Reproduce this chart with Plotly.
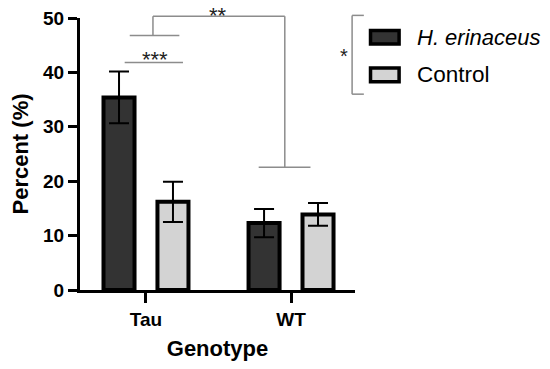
import plotly.graph_objects as go

categories = ["Tau", "WT"]
series_names = ["H. erinaceus", "Control"]
he_values = [35.4, 12.3]
he_errors = [4.75, 2.6]
ctrl_values = [16.2, 13.9]
ctrl_errors = [3.7, 2.1]
y_ticks = [0, 10, 20, 30, 40, 50]

FONT = "Liberation Sans, Arial, sans-serif"
DARK = "#333333"
LIGHT = "#d3d3d3"
GRAY = "#8c8c8c"

XR = [-0.455, 1.441]
YR = [0, 50]

def px_(x):
    return (x - XR[0]) / (XR[1] - XR[0])

def py_(y):
    return (y - YR[0]) / (YR[1] - YR[0])

fig = go.Figure()
for name, vals, errs, col in [(series_names[0], he_values, he_errors, DARK),
                              (series_names[1], ctrl_values, ctrl_errors, LIGHT)]:
    fig.add_trace(go.Bar(
        x=categories, y=vals, name=name,
        marker=dict(color=col, line=dict(color="black", width=4)),
        error_y=dict(type="data", array=errs, visible=True, color="black",
                     thickness=2, width=10),
        showlegend=False,
    ))

shapes = []
def seg(x0, y0, x1, y1):
    shapes.append(dict(type="line", xref="paper", yref="paper",
                       x0=px_(x0), y0=py_(y0), x1=px_(x1), y1=py_(y1),
                       line=dict(color=GRAY, width=1.5)))

# *** bracket (Tau: H. erinaceus vs Control)
seg(-0.147, 41.83, 0.255, 41.83)
# upper Tau line
seg(-0.112, 46.8, 0.23, 46.8)
seg(0.048, 46.8, 0.048, 50.3)
# ** bracket Tau vs WT
seg(0.048, 50.3, 0.957, 50.3)
seg(0.957, 50.3, 0.957, 22.58)
seg(0.777, 22.58, 1.134, 22.58)
# legend bracket *
seg(1.421, 50.48, 1.421, 36.0)
seg(1.421, 50.48, 1.502, 50.48)
seg(1.421, 36.0, 1.502, 36.0)

# manual legend swatches
for (y0, y1, col) in [(47.7, 45.2, DARK), (40.8, 38.3, LIGHT)]:
    shapes.append(dict(type="rect", xref="paper", yref="paper",
                       x0=px_(1.548), x1=px_(1.745), y0=py_(y1), y1=py_(y0),
                       fillcolor=col, line=dict(color="black", width=3.5)))

annotations = [
    dict(text="***", x=px_(0.06), y=py_(42.05), xref="paper", yref="paper",
         showarrow=False, xanchor="center", yanchor="middle", yshift=2,
         font=dict(size=22, color="#222", family=FONT)),
    dict(text="**", x=px_(0.495), y=py_(50.0), xref="paper", yref="paper",
         showarrow=False, xanchor="center", yanchor="middle", yshift=3,
         font=dict(size=22, color="#222", family=FONT)),
    dict(text="*", x=px_(1.363), y=py_(43.0), xref="paper", yref="paper",
         showarrow=False, xanchor="center", yanchor="middle",
         font=dict(size=20, color="#222", family=FONT)),
    dict(text="<i>H. erinaceus</i>", x=px_(1.858), y=py_(46.4), xref="paper", yref="paper",
         showarrow=False, xanchor="left", yanchor="middle",
         font=dict(size=22, color="black", family=FONT)),
    dict(text="Control", x=px_(1.858), y=py_(39.6), xref="paper", yref="paper",
         showarrow=False, xanchor="left", yanchor="middle",
         font=dict(size=22.5, color="black", family=FONT)),
]

# the page body adds an 8px margin, so the figure is 8px smaller and margins shifted
fig.update_layout(
    width=542, height=361,
    margin=dict(l=72, r=195, t=10, b=79),
    paper_bgcolor="white", plot_bgcolor="white",
    barmode="group", bargap=0.256, bargroupgap=0.425,
    shapes=shapes, annotations=annotations,
    font=dict(family=FONT, color="black"),
    xaxis=dict(range=XR, showline=True, linecolor="black", linewidth=3,
               ticks="outside", ticklen=10, tickwidth=3, tickcolor="black",
               tickfont=dict(size=19, family=FONT, weight="bold"),
               title=dict(text="<b>Genotype</b>", font=dict(size=22, family=FONT), standoff=12),
               showgrid=False, zeroline=False, automargin=False),
    yaxis=dict(range=YR, tickvals=y_ticks, showline=True, linecolor="black", linewidth=3,
               ticks="outside", ticklen=9, tickwidth=3, tickcolor="black",
               tickfont=dict(size=19, family=FONT, weight="bold"),
               ticklabeloverflow="allow",
               title=dict(text="<b>Percent (%)</b>", font=dict(size=22, family=FONT), standoff=10),
               showgrid=False, zeroline=False, automargin=False),
)

fig.write_html("out.html")
